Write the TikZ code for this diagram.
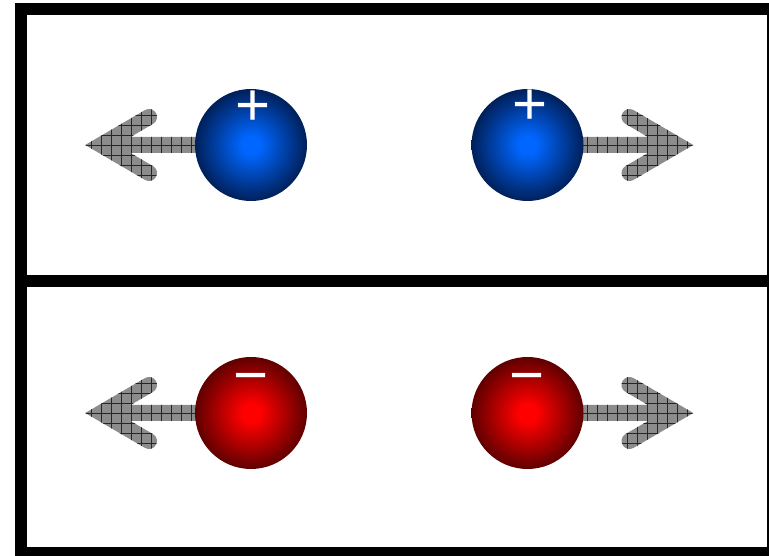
\documentclass[tikz,border=0pt]{standalone}
\usepackage{fontspec}
\newfontfamily\chargefont{Liberation Sans}

\definecolor{posCore}{HTML}{0066FF}
\definecolor{posEdge}{HTML}{00205A}
\definecolor{negCore}{HTML}{FF0000}
\definecolor{negEdge}{HTML}{600000}

% shadings of the charges, bright core fading to a dark rim
\pgfdeclareradialshading{posball}{\pgfpoint{0bp}{0bp}}{color(0bp)=(posCore); color(4bp)=(posCore); color(25bp)=(posEdge); color(50bp)=(posEdge)}
\pgfdeclareradialshading{negball}{\pgfpoint{0bp}{0bp}}{color(0bp)=(negCore); color(4bp)=(negCore); color(25bp)=(negEdge); color(50bp)=(negEdge)}

% outline of a force arrow pointing left, origin at the centre of the charge
\newcommand{\pushoutline}{(-165.8,0) -- (-106.03,34.91)
  arc[start angle=120.3, end angle=-59.7, radius=8pt]
  -- (-120.44,8) -- (-30,8) -- (-30,-8) -- (-120.44,-8) -- (-97.97,-21.09)
  arc[start angle=59.7, end angle=-120.3, radius=8pt]
  -- cycle}

\tikzset{
  charge/.style={circle, minimum size=112pt, inner sep=0pt},
  positive/.style={charge, shade, shading=posball},
  negative/.style={charge, shade, shading=negball},
  sign/.style={text=white, inner sep=0pt, anchor=base,
    font=\chargefont\fontsize{60}{60}\selectfont},
  pics/push/.style={code={
    \begin{scope}[xscale=#1]
      \fill[black!45] \pushoutline;
      \begin{scope}
        \clip \pushoutline;
        \draw[black!85, line width=0.8pt, step=10pt] (-175,-45) grid (-20,45);
      \end{scope}
    \end{scope}
  }}
}

\begin{document}
\begin{tikzpicture}[x=1pt, y=1pt]
    \useasboundingbox (0,0) rectangle (769,556);
    \clip (0,0) rectangle (769,556);

    % Frame
    \draw[line width=12pt] (21,3) rectangle (773,547);
    \draw[line width=12pt] (21,275) -- (773,275);

    % Forces, positive pair
    \pic at (251,411) {push=1};
    \pic at (527.5,411) {push=-1};

    % Forces, negative pair
    \pic at (251,143) {push=1};
    \pic at (527.5,143) {push=-1};

    % Positive charges
    \node[positive] (posL) at (251,411) {};
    \node[positive] (posR) at (527.5,411) {};
    \node[sign] (posLsign) at ([xshift=2pt, yshift=19pt]posL.center) {+};
    \node[sign] (posRsign) at ([xshift=2.5pt, yshift=20.5pt]posR.center) {+};

    % Negative charges
    \node[negative] (negL) at (251,143) {};
    \node[negative] (negR) at (527.5,143) {};
    \node[sign] (negLsign) at ([yshift=17.5pt]negL.center) {−};
    \node[sign] (negRsign) at ([yshift=17.5pt]negR.center) {−};
\end{tikzpicture}
\end{document}
